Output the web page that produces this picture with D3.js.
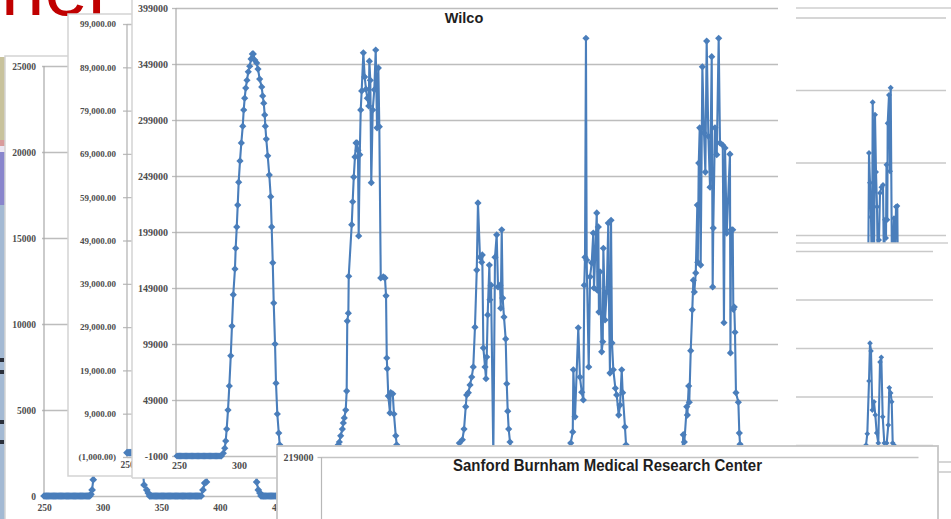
<!DOCTYPE html>
<html>
<head>
<meta charset="utf-8">
<script src="https://cdn.jsdelivr.net/npm/d3@7"></script>
<style>
  body { margin: 0; background: #fff; }
  svg { display: block; }
</style>
</head>
<body>
<svg id="collage" width="951" height="519"></svg>
<script>
// ---- data ----

// back chart (0 .. 25000)
var backTicks = [0, 5000, 10000, 15000, 20000, 25000];
var backXTicks = [250, 300, 350, 400, 450];
var backSeries = [
  [250,0],[251,0],[252,0],[253,0],[254,0],[255,0],[256,0],[257,0],[258,0],[259,0],
  [260,0],[261,0],[262,0],[263,0],[264,0],[265,0],[266,0],[267,0],[268,0],[269,0],
  [270,0],[271,0],[272,0],[273,0],[274,0],[275,0],[276,0],[277,0],[278,0],[279,0],
  [280,0],[281,0],[282,0],[283,0],[284,0],[285,0],[286,0],[287,0],[288,0],[289,0],
  [290,100],[291,350],[292,950],[293,2500],[295,8000],[300,15000],[310,20000],[320,14000],
  [330,6000],[334,1800],[335.3,640],[337.6,350],[338.9,170],
  [340,0],[341,0],[342,0],[343,0],[344,0],[345,0],[346,0],[347,0],[348,0],[349,0],
  [350,0],[351,0],[352,0],[353,0],[354,0],[355,0],[356,0],[357,0],[358,0],[359,0],
  [360,0],[361,0],[362,0],[363,0],[364,0],[365,0],[366,0],[367,0],[368,0],[369,0],
  [370,0],[371,0],[372,0],[373,0],[374,0],[375,0],[376,0],[377,0],[378,0],[379,0],
  [380,0],[381,0],[382,0],[383,0],[384,0],
  [385.5,350],[387,750],[388.5,820],[390,3000],[395,9000],[410,21000],[420,12000],
  [430,3000],[431.3,810],[432.7,350],[434.1,170],
  [435,0],[436,0],[437,0],[438,0],[439,0],[440,0],[441,0],[442,0],[443,0],[444,0],
  [445,0],[446,0],[447,0],[448,0],[449,0],[450,0],[451,0],[452,0],[453,0],[454,0],
  [455,0],[456,0],[457,0],[458,0],[459,0],[460,0]
];

// middle chart ((1,000.00) .. 99,000.00)
var midTicks = [-1000, 9000, 19000, 29000, 39000, 49000, 59000, 69000, 79000, 89000, 99000];
var midXTicks = [250];
var midSeries = [[250,0],[251,0],[252,0],[253,0],[254,0],[255,0],[256,0],[257,0],[258,0]];

// Wilco
var wilcoTitle = "Wilco";
var wilcoTicks = [-1000, 49000, 99000, 149000, 199000, 249000, 299000, 349000, 399000];
var wilcoXTicks = [250, 300];
var wilcoSeries = [
  [250,-1000],[251,-1000],[252,-1000],[253,-1000],[254,-1000],[255,-1000],[256,-1000],[257,-1000],
  [258,-1000],[259,-1000],[260,-1000],[261,-1000],[262,-1000],[263,-1000],[264,-1000],[265,-1000],
  [266,-1000],[267,-1000],[268,-1000],[269,-1000],[270,-1000],[271,-1000],[272,-1000],[273,-1000],
  [274,-1000],[275,-1000],[276,-1000],[277,-1000],[278,-1000],[279,-1000],[280,-1000],[281,-1000],
  [282,-1000],[283,-1000],[284,-1000],[285,-1000],[286,-1000],[287,-1000],
  [288.6,1500],[289.8,6000],[290.6,12500],[291.4,23000],[292.5,40000],[293.6,61500],[294.8,88500],
  [295.8,115000],[296.9,143000],[298.3,166000],[298.9,184500],[299.8,203500],[300.6,223000],
  [301.4,243500],[302.5,262500],[303.6,278500],[304.8,293500],[305.6,308000],[306.4,318500],
  [307.3,327500],[308.3,334500],[309.4,342000],[310.6,347000],[311.7,353500],[312.8,358000],
  [313.6,358000],[314.8,352500],[316.4,350000],[317.5,344500],[318.9,335500],[320.6,328500],
  [321.4,320500],[322.3,314000],[323.1,303500],[323.6,293500],[324.4,282000],[325.6,267000],
  [326.9,250000],[328.1,230500],[328.9,203500],[329.8,171500],[330.6,135500],[331.7,99000],
  [332.5,64000],[333.6,36500],[334.8,19500],[335.6,9000],[336.7,1000],[338,-1000],
  [383,-1000],
  [384.4,9000],[385.3,11500],[386.4,17000],[387.8,23000],[388.6,28500],[389.4,33000],[390.6,40000],
  [391.4,57000],[391.9,119500],[392.8,126500],[393.1,159500],[395.6,205500],[396.4,226000],
  [397.3,248000],[398.3,266000],[399.2,278500],[400,278500],[400.8,272000],[401.4,195500],
  [402.3,268000],[403.1,308000],[403.9,325000],[405.3,359000],[406.4,337500],[407.5,326500],
  [408.6,318500],[409.8,311500],[410.3,351500],[411.1,334500],[411.9,243000],[413.1,308000],
  [414.4,326000],[415.6,361500],[416.7,292000],[417.8,345500],[418.6,293000],[419.8,158000],
  [421.9,159000],[423.3,158000],[424.2,142000],[424.8,86500],[425.2,77000],[426.1,52500],
  [427.5,37500],[428.1,55500],[429.8,54500],[430.8,36500],[432.3,17000],[433.1,9000],[435,-1000],
  [484,-1000],
  [485.3,10500],[487.8,13500],[489.2,23000],[490.6,43000],[491.4,53500],[492.8,55500],[494.2,62500],
  [495.6,69500],[496.9,78500],[498.3,114000],[499.8,165000],[500.8,225000],[502.5,176500],
  [503.9,172000],[504.4,178500],[505.3,95500],[506.7,78500],[507.5,68000],[508.1,87500],
  [508.9,125000],[510.3,169500],[510.8,138500],[511.7,151500],[513.6,-1000],[515,176500],
  [516.4,196500],[517.5,150000],[519.2,151500],[519.8,131000],[520.6,201000],[521.4,140000],
  [522.5,123000],[523.9,103500],[524.8,63500],[525.6,39000],[526.4,23000],[527.5,11500],[529,-1000],
  [577,-1000],
  [578.1,10500],[579.8,20500],[580.3,76000],[581.7,34000],[584.4,113500],[585.8,69500],[587.3,56000],
  [588.6,49000],[589.4,151500],[590,176500],[590.8,372000],[591.4,174000],[593.1,78500],
  [594.2,159000],[595.6,171500],[596.9,198000],[597.5,149000],[599.8,216000],[600.3,147000],
  [601.1,203500],[601.6,127500],[602.5,163500],[603.9,92000],[604.8,101000],[605.3,184500],
  [606.7,120500],[608.1,145500],[609.4,207000],[609.8,150000],[610.8,73000],[611.7,209500],
  [612.5,100000],[613.6,76000],[615.3,59500],[616.4,53500],[618.1,35500],[619.2,44500],
  [620.6,76000],[621.4,55500],[623.3,25000],[624.2,9000],[626,-1000],
  [671,-1000],
  [671.9,18000],[672.8,11500],[674.8,43000],[675.3,35500],[676.4,61500],[676.9,47000],[678.1,93000],
  [679.4,129500],[680.3,156000],[681.1,145500],[682.3,162500],[683.6,223000],[684,172000],
  [684.8,260500],[685.6,292000],[686.4,169500],[687.8,346500],[689.2,287500],[690.3,252500],
  [691.4,369500],[692.8,284500],[694.2,239000],[695.6,355500],[696.4,150000],[696.9,202500],
  [698.3,292000],[699.8,268000],[701.4,372000],[702.5,278500],[704.8,276500],[705.8,118000],
  [706.7,274000],[708.1,198000],[710.8,268500],[711.2,91000],[711.7,201000],[713.1,201000],
  [713.6,130000],[714.4,132000],[715,109500],[715.8,55500],[717.8,47000],[718.6,19500],
  [719.2,9500],[721,-1000],[750,-1000]
];

// Sanford Burnham (only the top is in view)
var sbTitle = "Sanford Burnham Medical Research Center";
var sbTicks = [219000];

// the two small charts on the right
var rightTopTicks = [0, 100, 200, 300];
var rightTopSeries = [
  [72,-100],[73,113],[74,72],[75,25],[76,-60],[76.7,183],[78,-40],[79,166],[80,87],[81,39],
  [82,-60],[83,-7],[84,58],[85.5,66],[87,69],[88,-50],[89,21],[90,-4],[90.5,97],[91.3,21],
  [91.7,154],[93,193],[94,88],[94.7,203],[96,-60],[98,23],[99,-40],[100,39],[101.3,40],
  [102,-80],[103,-100]
];
var rightBottomTicks = [0, 100, 200, 300, 400];
var rightBottomSeries = [
  [70,0],[71.3,23],[73,132],[74,210],[75,194],[76.3,72],[78,89],[79.3,62],[80.7,25],[82.3,4],
  [84,171],[85.3,181],[86.7,58],[88.3,4],[90.7,4],[92.3,41],[93.3,118],[94.7,107],[95.7,89],
  [96.7,4],[98,0]
];

// ---- drawing ----
var blue = "#4a7ebb";
var gridColor = "#bdbdbd";
var svg = d3.select("#collage");

svg.append("rect").attr("width", 951).attr("height", 519).attr("fill", "#fff");

// slide background peeking out on the far left
var strip = svg.append("g");
[[57, 140, "#c8c29c"], [140, 146, "#d99c9c"], [146, 152, "#ece6f2"], [152, 205, "#8985cc"], [205, 519, "#a3b9d3"]]
  .forEach(function(b) {
    strip.append("rect").attr("x", 0).attr("y", b[0]).attr("width", 5).attr("height", b[1] - b[0]).attr("fill", b[2]);
  });
[358, 370, 420, 440].forEach(function(yy) {
  strip.append("rect").attr("x", 0).attr("y", yy).attr("width", 4).attr("height", 4).attr("fill", "#2a2f3a");
});

svg.append("text")
  .attr("x", 1).attr("y", 15)
  .attr("font-family", "'Liberation Sans', Arial, sans-serif")
  .attr("font-size", 78)
  .attr("fill", "#c00000")
  .text("ner");

function styleAxis(g, size) {
  g.select(".domain").remove();
  g.selectAll(".tick line").attr("stroke", gridColor).attr("stroke-width", 1.3);
  g.selectAll(".tick text")
    .attr("font-family", "'Liberation Serif', 'Times New Roman', serif")
    .attr("font-size", size || 10)
    .attr("font-weight", "bold")
    .attr("fill", "#4d4d4d");
}

function drawSeries(g, data, x, y, r) {
  var line = d3.line().x(function(d) { return x(d[0]); }).y(function(d) { return y(d[1]); });
  g.append("path").datum(data)
    .attr("d", line)
    .attr("fill", "none")
    .attr("stroke", blue)
    .attr("stroke-width", 2.1)
    .attr("stroke-linejoin", "round");
  g.append("g").selectAll("path")
    .data(data)
    .join("path")
    .attr("d", d3.symbol(d3.symbolSquare, r || 24))
    .attr("transform", function(d) { return "translate(" + x(d[0]) + "," + y(d[1]) + ") rotate(45)"; })
    .attr("fill", blue);
}

// back chart
var gA = svg.append("g");
gA.append("rect").attr("x", 5).attr("y", 56).attr("width", 320).attr("height", 480)
  .attr("fill", "#fff").attr("stroke", "#d3d3d3").attr("stroke-width", 1.5);
var xA = d3.scaleLinear().domain([250, 500]).range([44, 337.25]);
var yA = d3.scaleLinear().domain([0, 25000]).range([496, 66]);
gA.append("g").attr("transform", "translate(44,0)")
  .call(d3.axisLeft(yA).tickValues(backTicks).tickSize(-300).tickFormat(""))
  .call(function(g) { styleAxis(g); });
gA.append("g").attr("transform", "translate(44,0)")
  .call(d3.axisLeft(yA).tickValues(backTicks).tickSize(2).tickPadding(6).tickFormat(function(d) { return String(d); }))
  .call(function(g) { styleAxis(g, 9.5); });
gA.append("line").attr("x1", 44).attr("x2", 44).attr("y1", yA(25000)).attr("y2", yA(0))
  .attr("stroke", "#a8a8a8").attr("stroke-width", 1.2);
gA.append("g").attr("transform", "translate(0,496)")
  .call(d3.axisBottom(xA).tickValues(backXTicks).tickSize(0).tickPadding(8).tickFormat(function(d) { return String(d); }))
  .call(function(g) { styleAxis(g, 9.5); });
drawSeries(gA, backSeries, xA, yA, 30);

// middle chart
var gB = svg.append("g");
gB.append("rect").attr("x", 68).attr("y", 14).attr("width", 100).attr("height", 462)
  .attr("fill", "#fff").attr("stroke", "#d3d3d3").attr("stroke-width", 1.5);
var xB = d3.scaleLinear().domain([250, 300]).range([127, 187]);
var yB = d3.scaleLinear().domain([-1000, 99000]).range([457, 24]);
var moneyFmt = d3.format(",.2f");
gB.append("g").attr("transform", "translate(127,0)")
  .call(d3.axisLeft(yB).tickValues(midTicks).tickSize(4).tickPadding(7)
    .tickFormat(function(d) { return d < 0 ? "(" + moneyFmt(-d) + ")" : moneyFmt(d); }))
  .call(function(g) { styleAxis(g, 9); });
gB.append("g").attr("transform", "translate(127,0)")
  .call(d3.axisLeft(yB).tickValues(midTicks).tickSize(-40).tickFormat(""))
  .call(function(g) { styleAxis(g); });
gB.append("line").attr("x1", 127).attr("x2", 127).attr("y1", yB(99000)).attr("y2", yB(-1000))
  .attr("stroke", "#b0b0b0").attr("stroke-width", 1.2);
gB.append("g").attr("transform", "translate(0,457)")
  .call(d3.axisBottom(xB).tickValues(midXTicks).tickSize(0).tickPadding(4).tickFormat(function(d) { return String(d); }))
  .call(function(g) { styleAxis(g, 9.5); });
drawSeries(gB, midSeries, xB, yB, 30);

// right-hand fragments
var xE = d3.scaleLinear().domain([0, 150]).range([796, 946]);
var gE1 = svg.append("g");
gE1.append("rect").attr("x", 792).attr("y", 8).attr("width", 170).attr("height", 300).attr("fill", "#fff");
gE1.append("line").attr("x1", 796).attr("x2", 951).attr("y1", 8).attr("y2", 8).attr("stroke", "#cfcfcf").attr("stroke-width", 1.5);
var yE1 = d3.scaleLinear().domain([-100, 300]).range([307.5, 17.5]);
gE1.append("g").attr("transform", "translate(796,0)")
  .call(d3.axisLeft(yE1).tickValues(rightTopTicks).tickSize(-150).tickFormat(""))
  .call(function(g) { styleAxis(g); g.selectAll(".tick line").attr("stroke", "#c9c9c9"); });
drawSeries(gE1, rightTopSeries, xE, yE1, 18);

var gE2 = svg.append("g");
gE2.append("rect").attr("x", 792).attr("y", 243).attr("width", 170).attr("height", 260).attr("fill", "#fff");
gE2.append("line").attr("x1", 796).attr("x2", 948).attr("y1", 243).attr("y2", 243).attr("stroke", "#cfcfcf").attr("stroke-width", 1.5);
var yE2 = d3.scaleLinear().domain([0, 400]).range([445, 251]);
gE2.append("g").attr("transform", "translate(796,0)")
  .call(d3.axisLeft(yE2).tickValues(rightBottomTicks).tickSize(-137).tickFormat(""))
  .call(function(g) { styleAxis(g); g.selectAll(".tick line").attr("stroke", "#c9c9c9"); });
drawSeries(gE2, rightBottomSeries, xE, yE2, 16);

// Wilco chart
var gC = svg.append("g");
gC.append("rect").attr("x", 132).attr("y", -10).attr("width", 660).attr("height", 488).attr("fill", "#fff");
gC.append("line").attr("x1", 132).attr("x2", 132).attr("y1", -10).attr("y2", 478).attr("stroke", "#d3d3d3").attr("stroke-width", 1.5);
gC.append("line").attr("x1", 132).attr("x2", 300).attr("y1", 478).attr("y2", 478).attr("stroke", "#d3d3d3").attr("stroke-width", 1.5);
var xC = d3.scaleLinear().domain([250, 750]).range([177, 777]);
var yC = d3.scaleLinear().domain([-1000, 399000]).range([456, 8]);
gC.append("g").attr("transform", "translate(176,0)")
  .call(d3.axisLeft(yC).tickValues(wilcoTicks).tickSize(-602).tickFormat(""))
  .call(function(g) { styleAxis(g); g.selectAll(".tick line").attr("stroke-width", 1.5); });
gC.append("g").attr("transform", "translate(176,0)")
  .call(d3.axisLeft(yC).tickValues(wilcoTicks).tickSize(4).tickPadding(4).tickFormat(function(d) { return String(d); }))
  .call(function(g) { styleAxis(g, 10); });
gC.append("line").attr("x1", 176).attr("x2", 176).attr("y1", yC(399000)).attr("y2", yC(-1000))
  .attr("stroke", "#aaaaaa").attr("stroke-width", 1.2);
gC.append("g").attr("transform", "translate(2,456)")
  .call(d3.axisBottom(xC).tickValues(wilcoXTicks).tickSize(0).tickPadding(6).tickFormat(function(d) { return String(d); }))
  .call(function(g) { styleAxis(g, 10); });
gC.append("text")
  .attr("x", 464).attr("y", 23)
  .attr("text-anchor", "middle")
  .attr("font-family", "'Liberation Sans', Arial, sans-serif")
  .attr("font-weight", "bold")
  .attr("font-size", 14.5)
  .attr("fill", "#1e1e1e")
  .text(wilcoTitle);
drawSeries(gC, wilcoSeries, xC, yC, 26);

// Sanford Burnham chart, on top
var gD = svg.append("g");
gD.append("rect").attr("x", 277).attr("y", 446).attr("width", 661).attr("height", 100)
  .attr("fill", "#fff").attr("stroke", "#c6c6c6").attr("stroke-width", 1.8);
var yD = d3.scaleLinear().domain([-1000, 219000]).range([700, 457]);
gD.append("g").attr("transform", "translate(321.5,0)")
  .call(d3.axisLeft(yD).tickValues(sbTicks).tickSize(-597).tickFormat(""))
  .call(function(g) { styleAxis(g); g.selectAll(".tick line").attr("stroke", "#c4c4c4"); });
gD.append("g").attr("transform", "translate(321.5,0)")
  .call(d3.axisLeft(yD).tickValues(sbTicks).tickSize(4).tickPadding(4).tickFormat(function(d) { return String(d); }))
  .call(function(g) { styleAxis(g, 10); });
gD.append("line").attr("x1", 321.5).attr("x2", 321.5).attr("y1", 457).attr("y2", 530)
  .attr("stroke", "#b8b8b8").attr("stroke-width", 1.2);
gD.append("text")
  .attr("x", 453).attr("y", 471)
  .attr("font-family", "'Liberation Sans', Arial, sans-serif")
  .attr("font-weight", "bold")
  .attr("font-size", 16)
  .attr("textLength", 309)
  .attr("lengthAdjust", "spacingAndGlyphs")
  .attr("fill", "#1e1e1e")
  .text(sbTitle);

// another chart edge just visible at the far right
var gF = svg.append("g");
gF.append("line").attr("x1", 938).attr("x2", 951).attr("y1", 462).attr("y2", 462).attr("stroke", "#c8c8c8").attr("stroke-width", 1.5);
gF.append("line").attr("x1", 938).attr("x2", 951).attr("y1", 472).attr("y2", 472).attr("stroke", "#c8c8c8").attr("stroke-width", 1.5);
</script>
</body>
</html>
